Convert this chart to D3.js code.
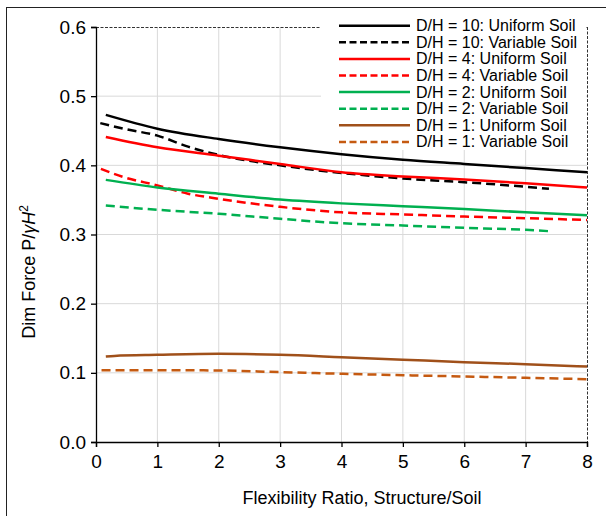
<!DOCTYPE html>
<html><head><meta charset="utf-8">
<script src="https://cdn.jsdelivr.net/npm/d3@7"></script>
<style>html,body{margin:0;padding:0;background:#fff;}svg{display:block;font-family:"Liberation Sans",Arial,sans-serif;}</style>
</head><body>
<svg id="c" width="606" height="516"></svg>
<script>
// ---- data ----
const xTicks = [0,1,2,3,4,5,6,7,8];
const yTicks = [0,0.1,0.2,0.3,0.4,0.5,0.6];
const seriesNames = [
  "D/H = 10: Uniform Soil","D/H = 10: Variable Soil",
  "D/H = 4: Uniform Soil","D/H = 4: Variable Soil",
  "D/H = 2: Uniform Soil","D/H = 2: Variable Soil",
  "D/H = 1: Uniform Soil","D/H = 1: Variable Soil"];
const dh10U_x = [0.16,1,2,3,4,5,6,7,8];
const dh10U_y = [0.473,0.453,0.438,0.426,0.416,0.408,0.402,0.396,0.390];
const dh10V_x = [0.07,0.5,1,1.5,2,3,4,5,6,7,7.38];
const dh10V_y = [0.461,0.452,0.443,0.427,0.415,0.400,0.389,0.381,0.3756,0.369,0.366];
const dh4U_x = [0.16,1,2,3,4,5,6,7,8];
const dh4U_y = [0.441,0.426,0.414,0.402,0.390,0.384,0.3795,0.374,0.368];
const dh4V_x = [0.08,0.45,1,1.5,2,3,4,5,6,7,8];
const dh4V_y = [0.395,0.383,0.371,0.359,0.3516,0.340,0.332,0.329,0.326,0.3236,0.321];
const dh2U_x = [0.16,1,2,3,4,5,6,7,8];
const dh2U_y = [0.379,0.368,0.359,0.3506,0.345,0.341,0.337,0.332,0.328];
const dh2V_x = [0.16,1,2,3,4,5,6,7,7.38];
const dh2V_y = [0.342,0.3357,0.330,0.3227,0.3163,0.313,0.3097,0.3067,0.3048];
const dh1U_x = [0.16,0.3,1,2,3,4,5,6,7,8];
const dh1U_y = [0.1236,0.1245,0.126,0.1275,0.126,0.1226,0.119,0.1154,0.1125,0.109];
const dh1V_x = [0.09,1,2,3,4,5,6,7,8];
const dh1V_y = [0.1038,0.1038,0.1034,0.101,0.0986,0.0966,0.0947,0.0928,0.0908];
const seriesX = [dh10U_x,dh10V_x,dh4U_x,dh4V_x,dh2U_x,dh2V_x,dh1U_x,dh1V_x];
const seriesY = [dh10U_y,dh10V_y,dh4U_y,dh4V_y,dh2U_y,dh2V_y,dh1U_y,dh1V_y];
const colors = ["#000000","#000000","#ff0000","#ff0000","#00b050","#00b050","#a0501a","#c55a11"];
const dashed = [false,true,false,true,false,true,false,true];

// ---- layout ----
const svg = d3.select("#c");
const x = d3.scaleLinear().domain([0,8]).range([96,587]);
const y = d3.scaleLinear().domain([0,0.6]).range([442,27]);

// outer border
svg.append("rect").attr("x",6.5).attr("y",7.5).attr("width",700).attr("height",700)
  .attr("fill","none").attr("stroke","#222").attr("stroke-width",1);

// gridlines
const grid = svg.append("g");
grid.selectAll(".vg").data(xTicks.slice(1,-1)).join("line")
  .attr("x1",d=>x(d)).attr("x2",d=>x(d)).attr("y1",y(0)).attr("y2",y(0.6))
  .attr("stroke","#d9d9d9").attr("stroke-width",1);
grid.selectAll(".hg").data(yTicks.slice(1,-1)).join("line")
  .attr("x1",x(0)).attr("x2",x(8)).attr("y1",d=>y(d)).attr("y2",d=>y(d))
  .attr("stroke","#d9d9d9").attr("stroke-width",1);

// plot border (dashed top)
svg.append("line").attr("x1",x(0)).attr("x2",x(8)).attr("y1",y(0.6)+0.5).attr("y2",y(0.6)+0.5)
  .attr("stroke","#333").attr("stroke-width",1).attr("stroke-dasharray","3,1.5");

// series
const line = d3.line().x(d=>x(d[0])).y(d=>y(d[1])).curve(d3.curveMonotoneX);
seriesX.forEach((xs,i)=>{
  const pts = xs.map((v,j)=>[v,seriesY[i][j]]);
  svg.append("path").attr("d",line(pts)).attr("fill","none")
    .attr("stroke",colors[i]).attr("stroke-width",2.5)
    .attr("stroke-dasharray",dashed[i]?"9,5":null);
});

// legend
const lg = svg.append("g");
lg.append("rect").attr("x",321).attr("y",14).attr("width",265).attr("height",136).attr("fill","#fff");
seriesNames.forEach((n,i)=>{
  const cy = 25.7 + i*16.6;
  lg.append("line").attr("x1",339).attr("x2",410).attr("y1",cy).attr("y2",cy)
    .attr("stroke",colors[i]).attr("stroke-width",2.5)
    .attr("stroke-dasharray",dashed[i]?"7,3.5":null);
  lg.append("text").attr("x",416).attr("y",cy+5.5).attr("font-size",16).attr("fill","#000").text(n);
});

// right dashed border
svg.append("line").attr("x1",x(8)+0.5).attr("x2",x(8)+0.5).attr("y1",y(0.6)).attr("y2",y(0))
  .attr("stroke","#333").attr("stroke-width",1).attr("stroke-dasharray","3,1.5");

// axes
const xAxis = d3.axisBottom(x).tickValues(xTicks).tickFormat(d3.format("d")).tickSize(5).tickPadding(8);
const yAxis = d3.axisLeft(y).tickValues(yTicks).tickFormat(d3.format(".1f")).tickSize(5).tickPadding(5);
const gx = svg.append("g").attr("transform",`translate(0,${y(0)})`).call(xAxis);
const gy = svg.append("g").attr("transform",`translate(${x(0)},0)`).call(yAxis);
[gx,gy].forEach(g=>{
  g.select(".domain").attr("stroke","#000").attr("stroke-width",1.3);
  g.selectAll(".tick line").attr("stroke","#000").attr("stroke-width",1.3);
  g.selectAll(".tick text").attr("font-size",19).attr("font-family","Liberation Sans, Arial, sans-serif").attr("fill","#000");
});

// axis titles
svg.append("text").attr("x",362).attr("y",504).attr("text-anchor","middle")
  .attr("font-size",18).attr("fill","#000").text("Flexibility Ratio, Structure/Soil");
const yt = svg.append("text").attr("transform","translate(35,272) rotate(-90)")
  .attr("text-anchor","middle").attr("font-size",18).attr("fill","#000");
yt.append("tspan").text("Dim Force P/");
yt.append("tspan").attr("font-style","italic").text("γH");
yt.append("tspan").attr("font-size",12).attr("dy",-7).text("2");
</script>
</body></html>
